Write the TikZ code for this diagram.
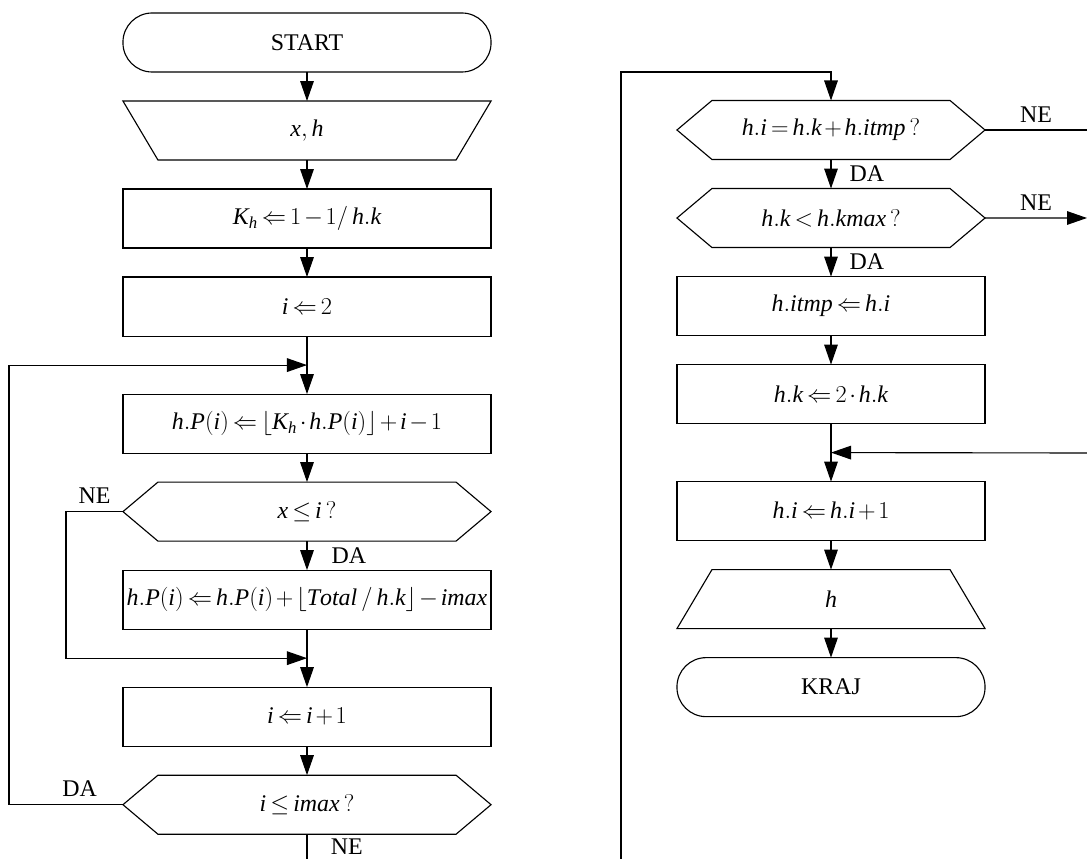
\documentclass[tikz,border=0pt]{standalone}
\usepackage{fontspec}
\setmainfont{Liberation Serif}
% math letters in the italic of the main font
\DeclareSymbolFont{tletters}{TU}{\rmdefault}{m}{it}
\makeatletter
\def\mathitletter#1{\Umathcode`#1=0 \symtletters `#1\relax}
\@tfor\@tmpl:=abcdefghijklmnopqrstuvwxyzABCDEFGHIJKLMNOPQRSTUVWXYZ\do{%
  \expandafter\mathitletter\@tmpl}
\makeatother
\thickmuskip=3mu plus 2mu
\medmuskip=2mu plus 1mu
\usetikzlibrary{arrows.meta,positioning}

\begin{document}
\begin{tikzpicture}[
        x=0.025cm, y=-0.025cm,
        font=\fontsize{17}{20}\selectfont, node distance=0.725cm,
        base/.style={draw, line width=0.8pt, outer sep=0pt, inner sep=1pt,
                     minimum height=1.475cm, align=center},
        term/.style={base, rounded corners=0.73cm, minimum width=#1},
        term/.default=9.2cm,
        proc/.style={base, minimum width=#1},
        proc/.default=9.2cm,
        io/.style={base, draw=none, minimum width=#1},
        io/.default=9.2cm,
        dec/.style={base, draw=none, minimum width=#1},
        dec/.default=9.2cm,
        e/.style={-{Triangle[length=0.5cm, width=0.34cm]}, line width=0.8pt},
        l/.style={line width=0.8pt},
        lbl/.style={inner sep=0pt}
      ]
        \useasboundingbox (0,0) rectangle (1087,859);
        % left column
        \node[term] (start) at (307,42.5) {START};
        \node[io, below=of start] (inp) {$x, h$};
        \node[proc, below=of inp] (kh) {$K_h \Leftarrow 1-1/\,h.k$};
        \node[proc, below=of kh] (i2) {$i \Leftarrow 2$};
        \coordinate[below=of i2] (j1);
        \node[proc, below=1.45cm of i2] (pi)
          {$h.P(i) \Leftarrow \bigl\lfloor K_h\cdot h.P\bigl(i\bigr)\bigr\rfloor + i - 1$};
        \node[dec, below=of pi] (xq) {$x \le i\,?$};
        \node[proc, below=of xq] (pt)
          {$h.P(i) \Leftarrow h.P(i) + \bigl\lfloor \mathit{Total}\,/\,h.k\bigr\rfloor - \mathit{imax}$};
        \coordinate[below=of pt] (j2);
        \node[proc, below=1.45cm of pt] (inc) {$i \Leftarrow i+1$};
        \node[dec, below=of inc] (iq) {$i \le \mathit{imax}\,?$};
        \coordinate (endL) at (307,859);
        % right column
        \node[dec=7.7cm] (hq1) at (831,130) {$h.i = h.k + h.\mathit{itmp}\,?$};
        \node[dec=7.7cm, below=of hq1] (hq2) {$h.k < h.\mathit{kmax}\,?$};
        \node[proc=7.7cm, below=of hq2] (itmp) {$h.\mathit{itmp} \Leftarrow h.i$};
        \node[proc=7.7cm, below=of itmp] (hk2) {$h.k \Leftarrow 2\cdot h.k$};
        \coordinate[below=of hk2] (j3);
        \node[proc=7.7cm, below=1.45cm of hk2] (hinc) {$h.i \Leftarrow h.i + 1$};
        \node[io=7.7cm, below=of hinc] (out) {$h$};
        \node[term=7.7cm, below=of out] (kraj) {KRAJ};
        \coordinate (back) at (621,859);
        \coordinate (top) at (831,72);
        \coordinate (ne1) at (1087,130);
        \coordinate (ne2) at (1087,218);
        \coordinate (ne3) at (1087,453);

        % decision and input/output outlines
        \foreach \n in {xq,iq,hq1,hq2}
          \draw[l] (\n.west) -- ([xshift=0.875cm]\n.north west)
            -- ([xshift=-0.875cm]\n.north east) -- (\n.east)
            -- ([xshift=-0.875cm]\n.south east)
            -- ([xshift=0.875cm]\n.south west) -- cycle;
        \draw[l] (inp.north west) -- (inp.north east)
          -- ([xshift=-0.875cm]inp.south east) -- ([xshift=0.875cm]inp.south west) -- cycle;
        \draw[l] ([xshift=0.875cm]out.north west) -- ([xshift=-0.875cm]out.north east)
          -- (out.south east) -- (out.south west) -- cycle;

        \draw[e] (start) -- (inp);
        \draw[e] (inp) -- (kh);
        \draw[e] (kh) -- (i2);
        \draw[e] (i2) -- (pi);
        \draw[e] (pi) -- (xq);
        \draw[e] (xq) -- node[lbl, right=0.6cm]{DA} (pt);
        \draw[e] (xq.west) -- node[lbl, above=0.18cm]{NE} ++(-57,0) |- (j2);
        \draw[e] (pt) -- (inc);
        \draw[e] (inc) -- (iq);
        \draw[e] (iq.west) -- node[lbl, above=0.18cm, pos=0.38]{DA} ++(-114,0) |- (j1);
        \draw[l] (iq.south) -- node[lbl, right=0.58cm]{NE} (endL);

        \draw[e] (back) |- (top) -- (hq1);
        \draw[l] (hq1.east) -- node[lbl, above=0.18cm]{NE} (ne1);
        \draw[e] (hq1) -- node[lbl, right=0.45cm]{DA} (hq2);
        \draw[e] (hq2.east) -- node[lbl, above=0.18cm]{NE} (ne2);
        \draw[e] (hq2) -- node[lbl, right=0.45cm]{DA} (itmp);
        \draw[e] (itmp) -- (hk2);
        \draw[e] (hk2) -- (hinc);
        \draw[e] (ne3) -- (j3);
        \draw[e] (hinc) -- (out);
        \draw[e] (out) -- (kraj);
      \end{tikzpicture}
\end{document}
